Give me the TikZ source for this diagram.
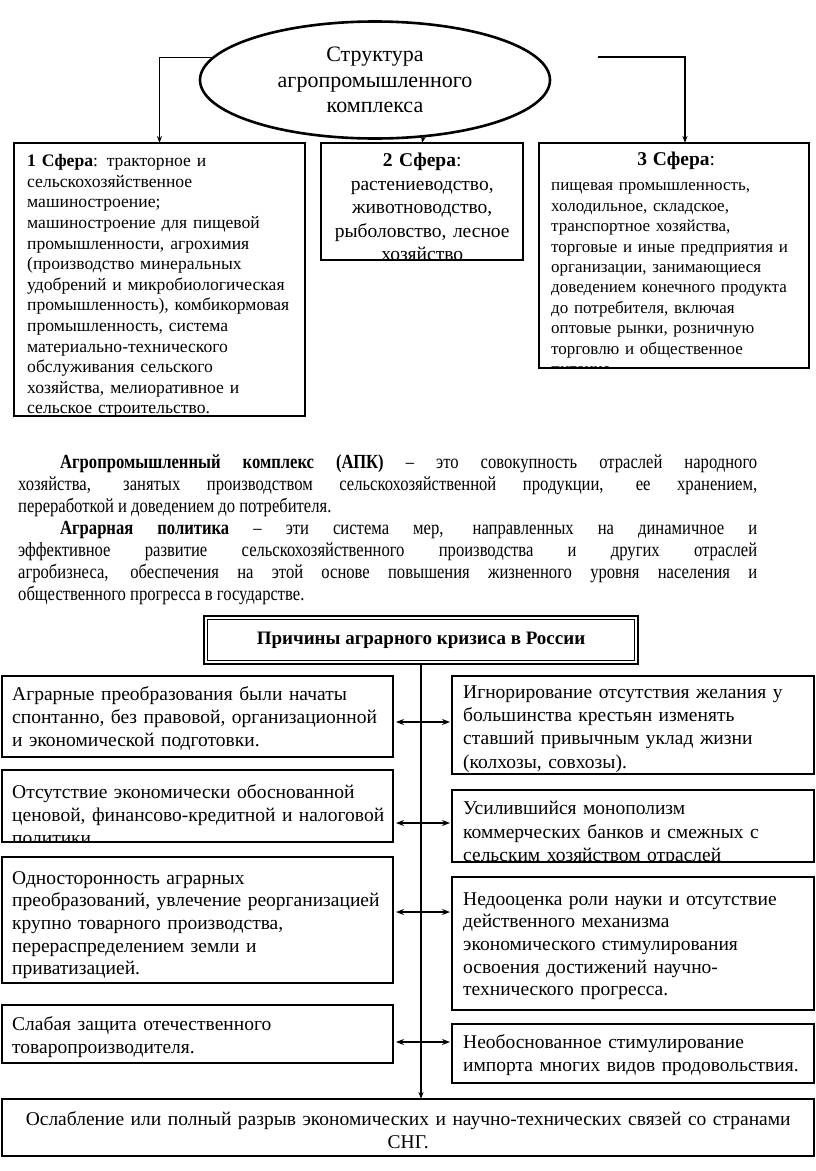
\documentclass[tikz,border=0pt]{standalone}
\usepackage{fontspec}
\setmainfont{Liberation Serif}
\newfontfamily\narrowfont{Liberation Serif}[FakeStretch=0.83]
\usetikzlibrary{shapes.geometric, arrows.meta, positioning, calc}

% box with its text clipped to the frame
\newcommand{\cutbox}[7]{%
  \node[frame, minimum width=#4pt, minimum height=#5pt] (#1) at (#2,#3) {};
  \begin{scope}
    \clip (#1.north west) rectangle (#1.south east);
    \node[#6] (#1txt) at (#1.north west) {\strut #7};
  \end{scope}}

\tikzset{
  frame/.style={draw, line width=1.3pt, anchor=north west, inner sep=0pt, outer sep=0pt},
  boxtext/.style={anchor=north west, inner sep=0pt, align=left},
  sfera/.style={boxtext, font=\fontsize{17.6}{20.6}\selectfont},
  cause/.style={boxtext, font=\fontsize{19.5}{22.7}\selectfont},
  arr/.style={-{Stealth[length=7pt, width=5pt]}, line width=1.1pt},
  dbl/.style={{Stealth[length=8pt, width=6pt]}-{Stealth[length=8pt, width=6pt]}, line width=1.1pt}
}

\begin{document}
\begin{tikzpicture}[x=1pt, y=-1pt]
\fill[white] (0,0) rectangle (816,1171);
\useasboundingbox (0,0) rectangle (816,1171);

% structure of the complex
\node[ellipse, draw, line width=2.6pt, minimum width=350pt, minimum height=117pt,
      align=center, font=\fontsize{22}{25.5}\selectfont] (sk) at (375,80)
      {Структура\\агропромышленного\\комплекса};

\cutbox{sf1}{14}{143}{291}{273}{sfera, xshift=13pt, yshift=-9pt, text width=270pt}{%
\textbf{1 Сфера}: тракторное и\\
сельскохозяйственное\\
машиностроение;\\
машиностроение для пищевой\\
промышленности, агрохимия\\
(производство минеральных\\
удобрений и микробиологическая\\
промышленность), комбикормовая\\
промышленность, система\\
материально-технического\\
обслуживания сельского\\
хозяйства, мелиоративное и\\
сельское строительство.}

\cutbox{sf2}{321}{143}{202}{117}{boxtext, align=center, text width=202pt, yshift=-7pt,
  font=\fontsize{19.5}{23.2}\selectfont}{%
\textbf{2 Сфера}:\\[1pt]
растениеводство,\\
животноводство,\\
рыболовство, лесное\\
хозяйство}

\cutbox{sf3}{539}{143}{270}{225}{boxtext, xshift=12pt, yshift=-8pt, text width=258pt,
  font=\fontsize{17}{20.4}\selectfont}{%
\makebox[250pt]{\fontsize{19.5}{22.5}\selectfont\textbf{3 Сфера}:}\\[5pt]
пищевая промышленность,\\
холодильное, складское,\\
транспортное хозяйства,\\
торговые и иные предприятия и\\
организации, занимающиеся\\
доведением конечного продукта\\
до потребителя, включая\\
оптовые рынки, розничную\\
торговлю и общественное\\
питание}

\coordinate (rstart) at (598,57);
\draw[arr] (sk.172) -| (sf1.north);
\draw[arr] (sk.310) -- (sf2.north);
\draw[arr] (rstart) -| ([xshift=11pt]sf3.north);

% definitions
\node[anchor=north west, inner sep=0pt, text width=739pt, align=justify,
      font=\narrowfont\fontsize{20}{22}\selectfont]
      (defs) at (18,454) {\hyphenpenalty=10000\relax
\hspace*{42pt}\textbf{Агропромышленный комплекс (АПК)} – это совокупность отраслей народного\linebreak
хозяйства, занятых производством сельскохозяйственной продукции, ее хранением,\linebreak
переработкой и доведением до потребителя.\par
\hspace*{42pt}\textbf{Аграрная политика} – эти система мер, направленных на динамичное и\linebreak
эффективное развитие сельскохозяйственного производства и других отраслей\linebreak
агробизнеса, обеспечения на этой основе повышения жизненного уровня населения и\linebreak
общественного прогресса в государстве.};

% causes of the crisis
\node[draw, line width=2.8pt, minimum width=434pt, minimum height=48pt,
      font=\bfseries\fontsize{19}{22}\selectfont] (title) at (421,640)
      {Причины аграрного кризиса в России};
\draw[line width=0.9pt] ([shift={(5pt,-5pt)}]title.north west) rectangle ([shift={(-5pt,5pt)}]title.south east);

\cutbox{l1}{2}{676}{391}{81}{cause, xshift=10pt, yshift=-8.8pt, text width=380pt}{%
Аграрные преобразования были начаты\\
спонтанно, без правовой, организационной\\
и экономической подготовки.}
\cutbox{l2}{2}{770}{391}{72}{cause, xshift=10pt, yshift=-12.5pt, text width=380pt}{%
Отсутствие экономически обоснованной\\
ценовой, финансово-кредитной и налоговой\\
политики}
\cutbox{l3}{2}{857}{391}{126}{cause, xshift=10pt, yshift=-11pt, text width=380pt}{%
Односторонность аграрных\\
преобразований, увлечение реорганизацией\\
крупно товарного производства,\\
перераспределением земли и\\
приватизацией.}
\cutbox{l4}{2}{1005}{391}{58}{cause, xshift=10pt, yshift=-9.8pt, text width=380pt}{%
Слабая защита отечественного\\
товаропроизводителя.}

\cutbox{r1}{452}{676}{362}{98}{cause, font=\fontsize{19.5}{23.2}\selectfont, xshift=11pt, yshift=-6pt, text width=350pt}{%
Игнорирование отсутствия желания у\\
большинства крестьян изменять\\
ставший привычным уклад жизни\\
(колхозы, совхозы).}
\cutbox{r2}{452}{790}{362}{72}{cause, font=\fontsize{19.5}{23.5}\selectfont, xshift=11pt, yshift=-8pt, text width=350pt}{%
Усилившийся монополизм\\
коммерческих банков и смежных с\\
сельским хозяйством отраслей}
\cutbox{r3}{452}{877}{362}{133}{cause, xshift=11pt, yshift=-12pt, text width=350pt}{%
Недооценка роли науки и отсутствие\\
действенного механизма\\
экономического стимулирования\\
освоения достижений научно-\\
технического прогресса.}
\cutbox{r4}{452}{1024}{362}{59}{cause, font=\fontsize{19.5}{23.5}\selectfont, xshift=11pt, yshift=-7.5pt, text width=350pt}{%
Необоснованное стимулирование\\
импорта многих видов продовольствия.}

\cutbox{res}{2}{1099}{812}{57}{cause, font=\fontsize{19.5}{23.5}\selectfont, align=center, text width=812pt, yshift=-9.5pt}{%
Ослабление или полный разрыв экономических и научно-технических связей со странами\\
СНГ.}

\draw[arr] (title.south) -- (title.south |- res.north);
\draw[dbl] ([xshift=3pt]l1.east |- 0,722) -- ([xshift=-2pt]r1.west |- 0,722);
\draw[dbl] ([xshift=3pt]l2.east |- 0,823) -- ([xshift=-2pt]r2.west |- 0,823);
\draw[dbl] ([xshift=3pt]l3.east |- 0,912) -- ([xshift=-2pt]r3.west |- 0,912);
\draw[dbl] ([xshift=3pt]l4.east |- 0,1042) -- ([xshift=-2pt]r4.west |- 0,1042);
\end{tikzpicture}
\end{document}
